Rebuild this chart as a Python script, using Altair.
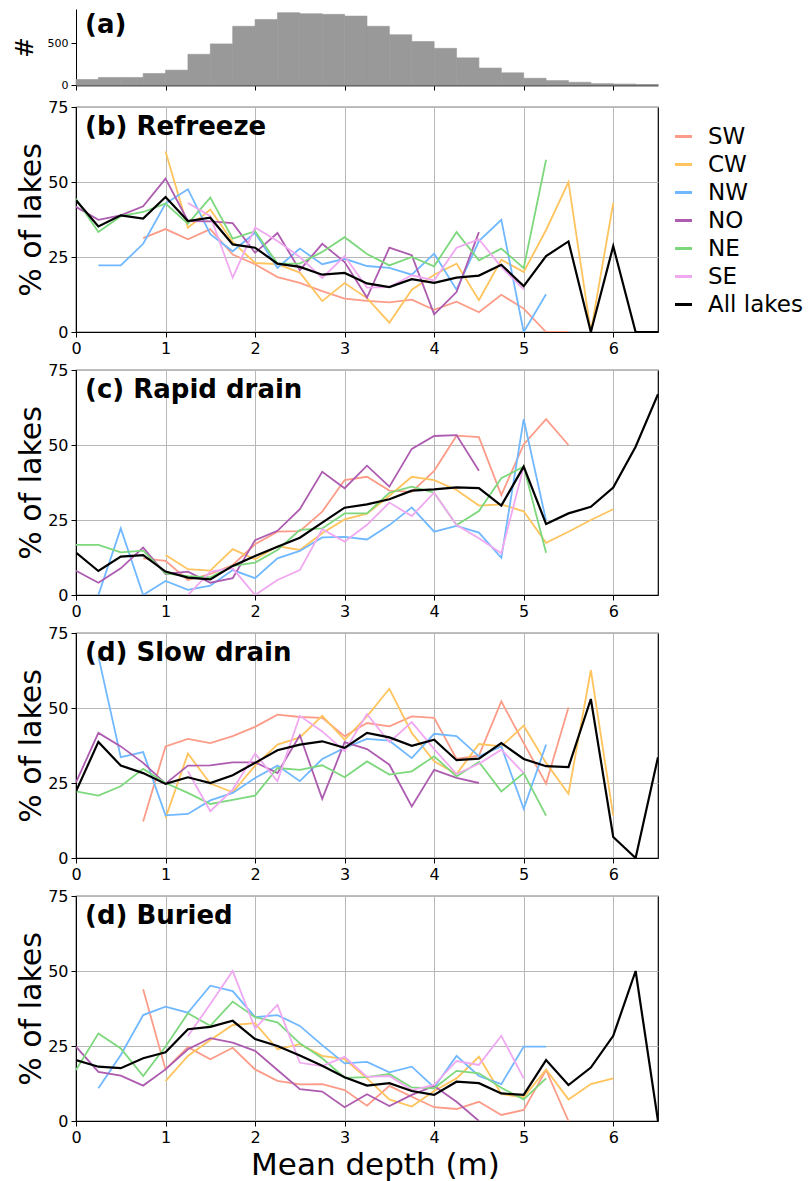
import altair as alt
import pandas as pd

FONT = "DejaVu Sans"

# ---------------- data ----------------
DEPTHS = [0.25 * i for i in range(27)]
REGIONS = ["SW", "CW", "NW", "NO", "NE", "SE", "All lakes"]
COLORS = ["#fc9c88", "#ffc45e", "#70b8ff", "#ad5cb0", "#7dd87d", "#f0a8f0", "#000000"]
# index (in DEPTHS) of the first value of each series
START = {"SW": 3, "CW": 4, "NW": 1, "NO": 0, "NE": 0, "SE": 5, "All lakes": 0}

# (a) histogram of mean depth, bins of 0.25 m from 0 to 6.5 m
HIST_EDGES = [0.25 * i for i in range(27)]
HIST_COUNTS = [66, 90, 90, 138, 178, 368, 492, 703, 785, 866, 854, 846, 825,
               703, 602, 520, 439, 325, 203, 146, 81, 53, 33, 16, 12, 4]

# (b) Refreeze
refreeze_SW = [31.3, 34.3, 30.9, 34.3, 25.8, 22.6, 18.3, 16.4, 13.6, 11.1, 10.4, 9.9,
               10.8, 7.4, 10.1, 6.6, 12.4, 7.8, 0, 0]
refreeze_CW = [60.2, 34.8, 40.8, 30, 23, 22.6, 19.8, 10.3, 16.3, 11.3, 3.1, 14.1, 19.1,
               22.8, 10.6, 24.1, 20, 34, 50, 0, 43]
refreeze_NW = [22.2, 22.2, 29.4, 42.8, 47.6, 32.6, 26.9, 33.1, 21.4, 27.8, 22.6, 24.4,
               22, 21.4, 19.1, 26.1, 14.1, 30.3, 37.4, 0, 12.6]
refreeze_NO = [41.7, 37.4, 38.9, 41.9, 51.1, 37, 36.9, 36.3, 26.4, 33, 20.6, 29.4, 23.3,
               11.5, 28.1, 25.6, 5.9, 13.3, 33.3]
refreeze_NE = [44.4, 33.3, 38.6, 40, 42.8, 36.1, 44.8, 31.1, 33.6, 22.8, 22.8, 26.7,
               31.6, 26, 22.2, 25, 21.9, 33.3, 23.9, 27.8, 21.3, 57.4]
refreeze_SE = [43, 38.6, 18.1, 34.8, 30.3, 25, 18, 25.3, 14.8, 15, 18.9, 17.2, 28.1,
               30.9, 21.7, 14.2]
refreeze_ALL = [43.9, 35.2, 38.9, 37.8, 45, 37, 38.1, 29.2, 28.1, 22.8, 21.7, 19.1, 19.7,
                16.2, 15, 17.6, 16.4, 18.1, 18.8, 22.4, 15.3, 25.3, 30.2, 0, 28.6, 0, 0]

# (c) Rapid drain
rapid_SW = [12.2, 11.4, 5, 7, 10, 16.9, 21.1, 21.3, 27.8, 38.3, 39.4, 34.8, 34.4, 41.4,
            53.1, 52.6, 33.3, 50.2, 58.6, 50]
rapid_CW = [13.3, 8.6, 8.1, 15.3, 11.9, 16.3, 15, 20.6, 25.2, 27.1, 33.1, 39.4, 38.3, 35,
            29.8, 30.2, 27.9, 17.4, 21.1, 25, 28.6]
rapid_NW = [0, 22.2, 0, 4.7, 1.7, 3.1, 8.3, 5.6, 12.2, 14.7, 19.2, 19.4, 18.5, 23.3, 29.2,
            21.1, 23, 20.8, 12.4, 58.6, 24.8]
rapid_NO = [8.1, 4.1, 8.9, 15.8, 7, 7.8, 4.1, 5.6, 18.3, 21.4, 28.6, 41.1, 35.6, 43.1,
            36.1, 48.7, 53, 53.3, 41.4]
rapid_NE = [16.7, 16.7, 14.2, 14.8, 7.2, 6.3, 5.9, 9.7, 10.8, 15, 21.7, 22.2, 27.2, 27.2,
            34.1, 36.1, 34.1, 23.3, 28, 38.9, 42.8, 14.1]
rapid_SE = [0, 7.8, 8.9, 0, 5, 8.3, 21.9, 17.8, 23.4, 30.8, 26.3, 34.1, 23.3, 18.9, 13.9,
            42.8]
rapid_ALL = [14.1, 8, 12.8, 13.3, 7.8, 5.8, 5.2, 9.7, 13, 16.1, 19.1, 24.1, 29.1, 30.2,
             31.9, 34.8, 35.2, 35.9, 35.6, 29.8, 42.8, 23.7, 27.2, 29.4, 35.8, 49.4, 66.9]

# (d) Slow drain
slow_SW = [12.2, 37.2, 39.7, 38.3, 40.6, 43.7, 47.8, 47, 46.7, 40.6, 45, 43.9, 47.2, 46.7,
           33, 34.1, 52.2, 38.3, 24.8, 50.2]
slow_CW = [13.3, 34.8, 24.8, 21.9, 30.8, 37.8, 40.2, 47.4, 39.4, 47.2, 56.4, 41.7, 32.2,
           28, 38, 37.2, 44.1, 31.7, 21.4, 62.6, 14.1]
slow_NW = [67.2, 33.6, 35.3, 14.2, 14.7, 19.2, 21.7, 26.7, 30.8, 25.6, 33, 36.7, 39.7,
           39.1, 33.3, 41.4, 40.6, 33.9, 37.2, 16.4, 37.8]
slow_NO = [25.2, 41.7, 37.2, 31.7, 24.8, 30.8, 30.9, 31.9, 31.9, 28.3, 40.9, 19.7, 38.6,
           36.3, 31.1, 17.2, 29.4, 26.7, 25]
slow_NE = [22.2, 20.8, 23.9, 29.7, 25, 21.7, 18, 19.4, 20.8, 30, 29.4, 30.9, 26.9, 32.2,
           27.8, 28.9, 33.9, 27.2, 32, 22.2, 28.3, 14.1]
slow_SE = [28.9, 15.6, 22.8, 34.8, 25.6, 47.4, 42.2, 35.6, 48, 38.6, 45.3, 36.3, 28, 31.4,
           36.1, 28.3]
slow_ALL = [22.2, 38.7, 30.8, 28.3, 24.7, 26.9, 25, 27.6, 31.7, 35.9, 37.8, 38.9, 36.7,
            41.7, 40.2, 37.4, 39.4, 32.6, 33.1, 38.3, 33, 30.6, 30.3, 53, 7, 0, 33.6]

# (d) Buried
buried_SW = [43.9, 17.2, 24.6, 20.6, 24.4, 17.2, 13.4, 12.2, 12.3, 10.3, 5.1, 11.7, 8.1,
             4.6, 4, 6.4, 2, 3.7, 17, 0]
buried_CW = [13.3, 21.7, 27, 32, 32.6, 23.9, 25.6, 21.7, 20.6, 14.2, 7.2, 4.8, 10, 14.2,
             21.4, 9, 7.9, 17.2, 7.2, 12.3, 14.2]
buried_NW = [10.9, 22, 35.3, 38.1, 36.1, 45.1, 43.3, 34.6, 35.3, 31.7, 25.3, 19.2, 19.7,
             16.2, 18.1, 11.2, 21.7, 15, 12.3, 24.8, 24.8]
buried_NO = [24.8, 16.4, 15.1, 11.8, 17.2, 23.9, 27.6, 26.1, 23.4, 17, 10.6, 9.8, 4.6, 8.9,
             5, 8.7, 11.7, 6.4, 0]
buried_NE = [17, 29.2, 24.2, 15, 24.8, 35.9, 31.7, 39.8, 34.6, 32.9, 25.9, 20.9, 14.4,
             14.6, 15.7, 11.2, 10.9, 16.7, 15.9, 11.1, 7.2, 14.2]
buried_SE = [28.3, 39, 50, 30.9, 38.7, 19.4, 18.3, 21.4, 14.7, 15, 10.3, 12, 20, 18.7,
             28.4, 14.2]
buried_ALL = [20.3, 18.1, 17.6, 20.9, 22.9, 30.6, 31.4, 33.4, 27.3, 25, 21.8, 18.4, 14.6,
              11.8, 12.6, 10, 8.7, 13.1, 12.6, 9.2, 8.7, 20.3, 12, 17.8, 28.4, 50, 0]

PANELS = [
    ("(b) Refreeze", [refreeze_SW, refreeze_CW, refreeze_NW, refreeze_NO, refreeze_NE, refreeze_SE, refreeze_ALL]),
    ("(c) Rapid drain", [rapid_SW, rapid_CW, rapid_NW, rapid_NO, rapid_NE, rapid_SE, rapid_ALL]),
    ("(d) Slow drain", [slow_SW, slow_CW, slow_NW, slow_NO, slow_NE, slow_SE, slow_ALL]),
    ("(d) Buried", [buried_SW, buried_CW, buried_NW, buried_NO, buried_NE, buried_SE, buried_ALL]),
]

W = 582
H = 225


def long_table(series_list):
    rows = []
    for region, vals in zip(REGIONS, series_list):
        s = START[region]
        for k, v in enumerate(vals):
            rows.append({"region": region, "depth": DEPTHS[s + k], "value": v})
    return pd.DataFrame(rows)


legend = alt.Legend(
    orient="none", legendX=596, legendY=116, title=None,
    labelFont=FONT, labelFontSize=23, labelColor="black",
    symbolType="stroke", symbolSize=289, symbolStrokeWidth=3,
    labelOffset=13, rowPadding=4, padding=0, labelLimit=0,
)


def line_panel(title, series_list, last):
    df = long_table(series_list)
    x = alt.X("depth:Q",
              scale=alt.Scale(domain=[0, 6.5], nice=False, zero=False),
              axis=alt.Axis(values=[0, 1, 2, 3, 4, 5, 6], format="d", grid=True,
                            labelFlush=False,
                            title="Mean depth (m)" if last else None,
                            titleFontSize=31, titlePadding=5, titleX=W / 2 + 8))
    y = alt.Y("value:Q",
              scale=alt.Scale(domain=[0, 75], nice=False),
              axis=alt.Axis(values=[0, 25, 50, 75], grid=True, title="% of lakes",
                            titleFontSize=30, titlePadding=1, labelFlush=False))
    color = alt.Color("region:N", scale=alt.Scale(domain=REGIONS, range=COLORS),
                      legend=legend)
    base = alt.Chart(df)
    regional = base.transform_filter(alt.datum.region != "All lakes").mark_line(
        strokeWidth=1.8, clip=True).encode(x=x, y=y, color=color)
    overall = base.transform_filter(alt.datum.region == "All lakes").mark_line(
        strokeWidth=2.2, clip=True).encode(x=x, y=y, color=color)
    label = alt.Chart(pd.DataFrame({"t": [title]})).mark_text(
        align="left", baseline="alphabetic", font=FONT, fontSize=26,
        fontWeight="bold", color="black").encode(
        text="t:N", x=alt.value(9), y=alt.value(28))
    return alt.layer(regional, overall, label).properties(width=W, height=H)


hist_df = pd.DataFrame({"x0": HIST_EDGES[:-1], "x1": HIST_EDGES[1:], "n": HIST_COUNTS})
hist_bars = alt.Chart(hist_df).mark_rect(color="#999999", stroke="#999999",
                                         strokeWidth=0.6).encode(
    x=alt.X("x0:Q", scale=alt.Scale(domain=[0, 6.5], nice=False, zero=False),
            axis=alt.Axis(values=[0, 1, 2, 3, 4, 5, 6], labels=False, grid=False,
                          title=None, domainColor="#555555", domainWidth=2)),
    x2="x1:Q",
    y=alt.Y("n:Q", scale=alt.Scale(domain=[0, 910], nice=False),
            axis=alt.Axis(values=[0, 500], grid=False, title="#", labelFontSize=11,
                          titleFontSize=25, titlePadding=10)),
    y2=alt.datum(0),
)
hist_label = alt.Chart(pd.DataFrame({"t": ["(a)"]})).mark_text(
    align="left", baseline="alphabetic", font=FONT, fontSize=26,
    fontWeight="bold", color="black").encode(text="t:N", x=alt.value(9), y=alt.value(24))
hist = alt.layer(hist_bars, hist_label).properties(
    width=W, height=76, view=alt.ViewBackground(stroke="transparent"))

inner = alt.vconcat(*[line_panel(t, s, i == len(PANELS) - 1) for i, (t, s) in enumerate(PANELS)],
                    spacing=38, bounds="flush")

chart = alt.vconcat(hist, inner, spacing=22, bounds="flush").properties(
    padding={"left": 3, "top": 0, "right": 0, "bottom": 0}
).configure_axis(
    labelFont=FONT, labelFontSize=16, labelColor="black",
    titleFont=FONT, titleFontSize=28, titleFontWeight="normal", titleColor="black",
    domainColor="black", domainWidth=1, tickColor="black", tickSize=5, tickWidth=1,
    labelPadding=3, gridColor="#b8b8b8", gridWidth=1,
).configure_view(stroke="black", strokeWidth=1.2)

chart.save("out.html", embed_options={"renderer": "svg", "actions": False})
